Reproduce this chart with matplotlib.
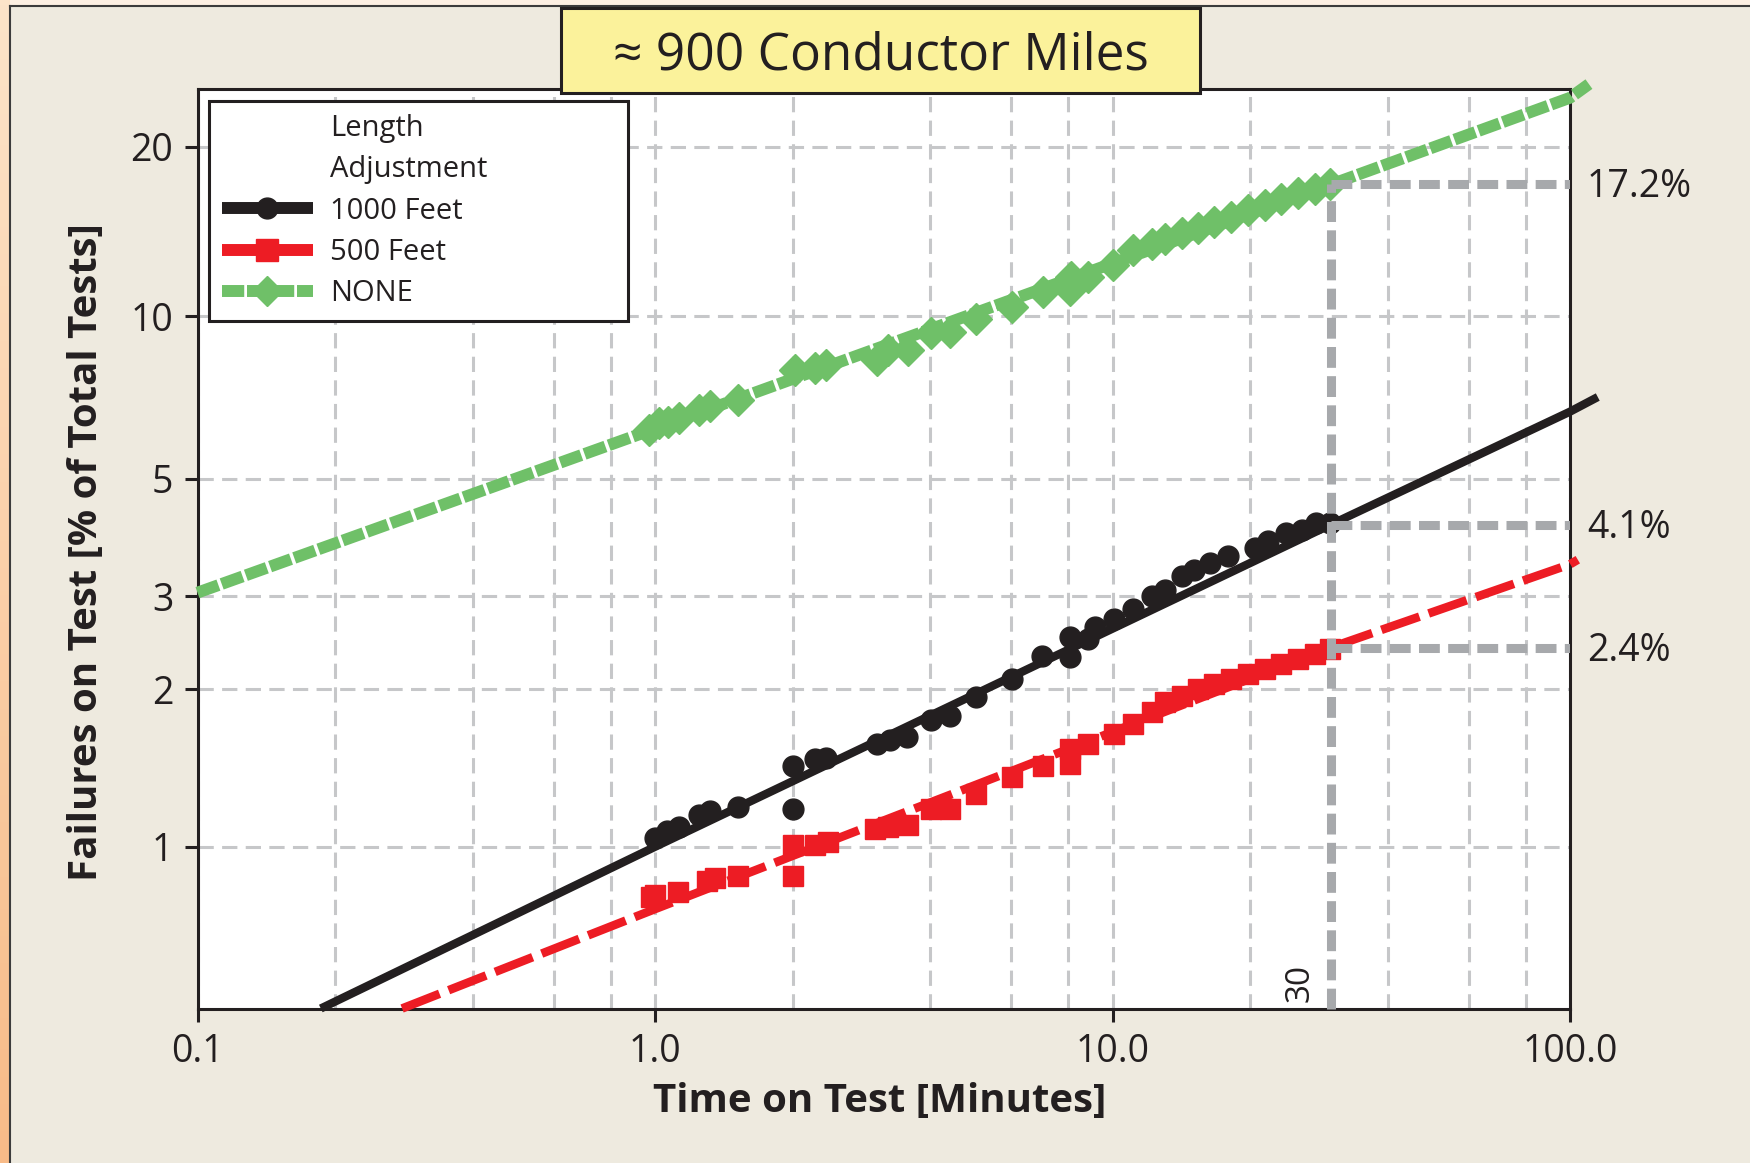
import numpy as np
import matplotlib
matplotlib.use('Agg')
import matplotlib.pyplot as plt
from matplotlib.lines import Line2D
from matplotlib.patches import Rectangle
from matplotlib.ticker import FixedLocator, NullLocator, NullFormatter
from matplotlib.colors import LinearSegmentedColormap

plt.rcParams['font.family'] = ['Open Sans', 'DejaVu Sans']
plt.rcParams['lines.scale_dashes'] = False

# ---------------- data ----------------
title = "\u2248 900 Conductor Miles"
series_names = ["1000 Feet", "500 Feet", "NONE"]
legend_title_rows = ["Length", "Adjustment"]

black_t = [1.00, 1.06, 1.13, 1.25, 1.32, 1.52, 2.0, 2.0, 2.24, 2.37, 3.05, 3.26, 3.55, 4.02,
           4.41, 5.04, 6.02, 7.0, 8.07, 8.07, 8.85, 9.15, 10.1, 11.1, 12.2, 13.0, 14.2, 15.1,
           16.3, 17.9, 20.5, 21.9, 24.0, 25.9, 27.9, 29.9]
black_p = [1.04, 1.07, 1.09, 1.15, 1.17, 1.19, 1.43, 1.18, 1.47, 1.48, 1.57, 1.60, 1.62, 1.75,
           1.78, 1.93, 2.09, 2.31, 2.30, 2.51, 2.49, 2.62, 2.72, 2.84, 3.00, 3.09, 3.28, 3.37,
           3.47, 3.58, 3.71, 3.81, 3.96, 4.01, 4.13, 4.13]

red_t = [0.98, 1.00, 1.12, 1.30, 1.35, 1.52, 2.0, 2.0, 2.24, 2.39, 3.02, 3.23, 3.58, 4.02,
         4.41, 5.04, 6.02, 7.06, 8.07, 8.07, 8.85, 10.1, 11.1, 12.2, 13.0, 14.2, 15.4, 16.7,
         18.2, 19.8, 21.5, 23.4, 25.5, 27.7, 29.9]
red_p = [0.80, 0.81, 0.82, 0.86, 0.87, 0.88, 1.01, 0.88, 1.01, 1.02, 1.08, 1.09, 1.10, 1.18,
         1.18, 1.26, 1.36, 1.43, 1.44, 1.54, 1.57, 1.64, 1.72, 1.81, 1.89, 1.94, 2.00, 2.05,
         2.09, 2.14, 2.18, 2.23, 2.28, 2.33, 2.38]

green_t = [0.97, 1.02, 1.07, 1.13, 1.25, 1.32, 1.52, 2.02, 2.24, 2.37, 3.05, 3.23, 3.58, 4.02,
           4.41, 5.04, 6.02, 7.06, 8.07, 8.10, 8.85, 10.0, 11.1, 12.2, 13.0, 14.2, 15.4, 16.7,
           18.2, 19.8, 21.5, 23.4, 25.5, 27.7, 29.9]
green_p = [6.17, 6.35, 6.39, 6.49, 6.72, 6.82, 7.01, 7.96, 8.02, 8.13, 8.31, 8.67, 8.67, 9.30,
           9.36, 9.90, 10.39, 11.07, 11.14, 11.78, 11.78, 12.36, 13.15, 13.5, 13.8, 14.1, 14.4,
           14.8, 15.1, 15.5, 15.8, 16.2, 16.6, 16.9, 17.2]

# fitted lines (read end/through points)
black_fit_t = [0.186, 1.0, 30.0, 100.0, 115.0]
black_fit_p = [0.49, 1.0, 4.1, 6.67, 7.1]
red_fit_t = [0.28, 1.0, 30.0, 100.0, 104.0]
red_fit_p = [0.49, 0.76, 2.40, 3.45, 3.52]
green_fit_t = [0.1, 1.0, 30.0, 100.0, 110.0]
green_fit_p = [3.05, 6.2, 17.2, 24.2, 25.5]

ref_t = 30
ref_p = [17.2, 4.1, 2.4]
ref_labels = ["17.2%", "4.1%", "2.4%"]

x_ticks = [0.1, 1, 10, 100]
x_ticklabels = ["0.1", "1.0", "10.0", "100.0"]
x_minor_grid = [0.2, 0.4, 0.6, 0.8, 2, 4, 6, 8, 20, 40, 60, 80]
y_ticks = [1, 2, 3, 5, 10, 20]
y_ticklabels = ["1", "2", "3", "5", "10", "20"]
x_lim = (0.1, 100)
y_lim = (0.49, 25)

x_label = "Time on Test [Minutes]"
y_label = "Failures on Test [% of Total Tests]"

# ---------------- style ----------------
BLACK = '#231f20'
RED = '#ed1c24'
GREEN = '#6fc068'
GRAY = '#a7a9ac'
GRID = '#c6c7c9'
BEIGE = '#eeeadf'
YELLOW = '#fbf29b'


def weib(p):
    p = np.clip(np.asarray(p, dtype=float), 1e-6, 99.9999)
    return np.log(-np.log(1 - p / 100.0))


def weib_inv(w):
    w = np.asarray(w, dtype=float)
    return 100.0 * (1 - np.exp(-np.exp(w)))


W, H = 1750, 1163
fig = plt.figure(figsize=(W / 100, H / 100), dpi=100)
fig.patch.set_facecolor(BEIGE)

# background decoration (left orange strip, frame)
bg = fig.add_axes([0, 0, 1, 1], zorder=-10)
grad = np.linspace(0, 1, 256).reshape(-1, 1)
cm = LinearSegmentedColormap.from_list('o', ['#fde4c9', '#f8bb88'])
bg.imshow(grad, extent=(0, 10, H, 0), cmap=cm, aspect='auto')
bg.add_patch(Rectangle((10, 0), W - 10, 6, color='#fdf0e3', lw=0))
bg.plot([10, 10], [6, H], color='#3c3c3c', lw=1.5)
bg.plot([10, W], [6, 6], color='#3c3c3c', lw=1.5)
bg.set_xlim(0, W)
bg.set_ylim(H, 0)
bg.axis('off')

ax = fig.add_axes([197.5 / W, 1 - 1008.5 / H, 1372.5 / W, 919.2 / H])
ax.set_facecolor('white')
ax.set_xscale('log')
ax.set_yscale('function', functions=(weib, weib_inv))
ax.set_xlim(*x_lim)
ax.set_ylim(*y_lim)

ax.set_xticks(x_ticks)
ax.set_xticklabels(x_ticklabels)
ax.xaxis.set_minor_locator(FixedLocator(x_minor_grid))
ax.xaxis.set_minor_formatter(NullFormatter())
ax.set_yticks(y_ticks)
ax.set_yticklabels(y_ticklabels)
ax.yaxis.set_minor_locator(NullLocator())
ax.tick_params(which='major', length=9.5, width=2.2, direction='out', labelsize=27,
               pad=8, color=BLACK, labelcolor=BLACK)
ax.tick_params(axis='x', which='minor', length=0)
for s in ax.spines.values():
    s.set_linewidth(2.2)
    s.set_color(BLACK)

ax.set_axisbelow(True)
ax.grid(True, axis='x', which='both', color=GRID, lw=2.2, linestyle=(0, (11, 6)))
ax.grid(True, axis='y', which='major', color=GRID, lw=2.2, linestyle=(0, (11, 6)))

# series
ax.plot(green_fit_t, green_fit_p, color=GREEN, lw=8.5, dashes=(16, 2.5), solid_capstyle='butt',
        dash_capstyle='butt', clip_on=False, zorder=3)
ax.plot(green_t, green_p, linestyle='none', marker='D', ms=16.5, color=GREEN, mec=GREEN,
        zorder=3)
ax.plot(black_fit_t, black_fit_p, color=BLACK, lw=6, solid_capstyle='butt',
        clip_on=False, zorder=4)
ax.plot(black_t, black_p, linestyle='none', marker='o', ms=15, color=BLACK, zorder=4)
ax.plot(red_fit_t, red_fit_p, color=RED, lw=6.2, dashes=(29, 7), dash_capstyle='butt',
        clip_on=False, zorder=4)
ax.plot(red_t, red_p, linestyle='none', marker='s', ms=15, color=RED, zorder=4)

# reference lines at 30 minutes
ax.plot([ref_t, ref_t], [y_lim[0], max(ref_p)], color=GRAY, lw=6.5, dashes=(15, 6),
        dash_capstyle='butt', zorder=6, clip_on=False)
for p, lab in zip(ref_p, ref_labels):
    ax.plot([ref_t, x_lim[1]], [p, p], color=GRAY, lw=6.5, dashes=(15, 6),
            dash_capstyle='butt', zorder=6)
    ax.annotate(lab, xy=(1, p), xycoords=('axes fraction', 'data'), xytext=(17, -3),
                textcoords='offset pixels', va='center', ha='left', fontsize=27,
                color=BLACK, annotation_clip=False)
ax.annotate(str(ref_t), xy=(ref_t, 0), xycoords=('data', 'axes fraction'), xytext=(-14, 6),
            textcoords='offset pixels', rotation=90, ha='right', va='bottom', fontsize=24,
            color=BLACK)

# axis labels
ax.set_xlabel(x_label, fontsize=29, fontweight='bold', color=BLACK, va='center')
ax.xaxis.set_label_coords(0.497, -0.1015)
ax.set_ylabel(y_label, fontsize=29, fontweight='bold', color=BLACK, va='center')
ax.yaxis.set_label_coords(-0.0812, 0.496)

# legend
handles = [Line2D([], [], linestyle='none'), Line2D([], [], linestyle='none'),
           Line2D([], [], color=BLACK, lw=8.6, marker='o', ms=15, solid_capstyle='butt'),
           Line2D([], [], color=RED, lw=8.6, marker='s', ms=16, solid_capstyle='butt'),
           Line2D([], [], color=GREEN, lw=8.6, dashes=(16, 2), marker='D', ms=15,
                  dash_capstyle='butt')]
labels = legend_title_rows + series_names
leg = ax.legend(handles, labels, loc='upper left', bbox_to_anchor=(0.0084, 0.0, 0.3053, 0.9873),
                mode='expand', borderaxespad=0, fontsize=21, frameon=True, fancybox=False,
                framealpha=1, edgecolor=BLACK, handlelength=3.1, handletextpad=0.6,
                labelspacing=0.42, borderpad=0.45, labelcolor=BLACK)
leg.get_frame().set_linewidth(2.2)
leg.set_zorder(7)

# title box
fig.add_artist(Rectangle((561 / W, 1 - 93 / H), 639 / W, 85 / H, transform=fig.transFigure,
                         facecolor=YELLOW, edgecolor=BLACK, lw=2.2, zorder=10))
fig.text(880.5 / W, 1 - 56 / H, title, fontsize=37, ha='center', va='center', color=BLACK,
         zorder=11)

fig.savefig('out.png', dpi=100, facecolor=fig.get_facecolor())
